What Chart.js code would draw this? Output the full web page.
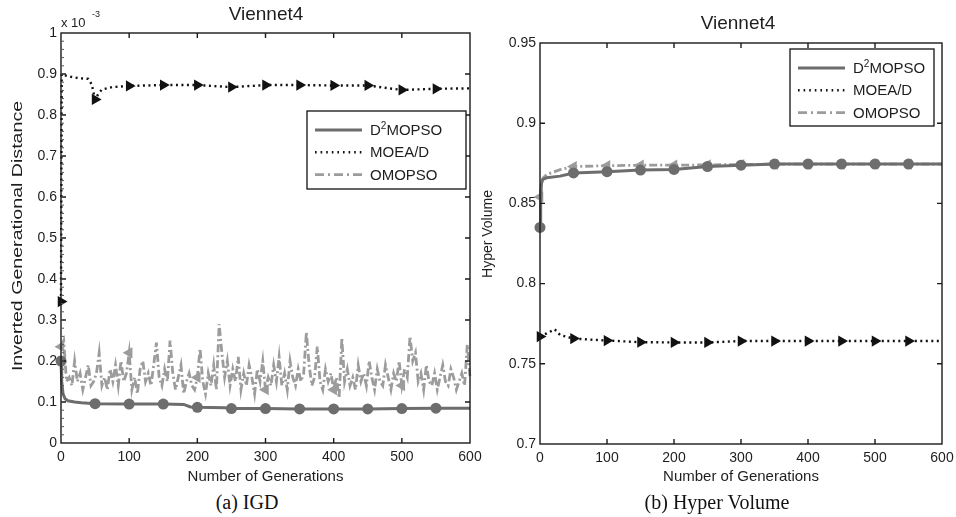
<!DOCTYPE html>
<html><head><meta charset="utf-8">
<script src="https://cdn.jsdelivr.net/npm/chart.js@4.4.1/dist/chart.umd.min.js"></script>
<style>
html,body{margin:0;padding:0;background:#fff;width:956px;height:517px;overflow:hidden;position:relative;}
#c1{position:absolute;left:0;top:0;}
#c2{position:absolute;left:478px;top:0;}
.cap{position:absolute;top:488px;font-family:"Liberation Serif","DejaVu Serif",serif;font-size:20px;color:#111;text-align:center;width:300px;line-height:28px;}
</style></head>
<body>
<canvas id="c1" width="484" height="481"></canvas>
<canvas id="c2" width="478" height="481"></canvas>
<div class="cap" style="left:97px">(a) IGD</div>
<div class="cap" style="left:567px">(b) Hyper Volume</div>
<script>
// ---------- DATA ----------
const seriesNames = ['D²MOPSO', 'MOEA/D', 'OMOPSO'];
const chartTitle = 'Viennet4';
const xAxisTitle = 'Number of Generations';
const igdAxisTitle = 'Inverted Generational Distance';
const hvAxisTitle = 'Hyper Volume';

// (a) IGD  (values in units of 10^-3)
const igdD2Gens  = [0,1,3,6,10,20,30,50,100,150,180,190,200,240,250,300,350,400,450,500,550,600];
const igdD2Vals  = [0.2,0.15,0.12,0.108,0.103,0.1,0.098,0.096,0.095,0.095,0.094,0.088,0.087,0.086,0.084,0.084,0.083,0.083,0.083,0.084,0.085,0.085];
const igdMoeaGens = [0,1,5,15,25,40,45,50,55,60,75,100,125,150,200,250,300,350,400,450,500,550,600];
const igdMoeaVals = [0.345,0.9,0.897,0.893,0.89,0.888,0.875,0.838,0.852,0.862,0.868,0.871,0.872,0.873,0.873,0.868,0.873,0.873,0.872,0.872,0.861,0.864,0.865];
const igdOmopsoStep = 4; // one value every 4 generations
const igdOmopsoVals = [
 0.235,0.25,0.15,0.16,0.14,0.2,0.15,0.17,0.13,0.16,
 0.19,0.14,0.15,0.17,0.22,0.14,0.16,0.13,0.18,0.15,
 0.19,0.14,0.2,0.15,0.17,0.22,0.13,0.16,0.12,0.18,
 0.2,0.15,0.17,0.14,0.19,0.245,0.16,0.14,0.18,0.15,
 0.25,0.17,0.13,0.16,0.19,0.12,0.15,0.17,0.14,0.13,
 0.16,0.23,0.15,0.12,0.17,0.14,0.19,0.13,0.29,0.22,
 0.16,0.2,0.14,0.18,0.15,0.21,0.13,0.17,0.14,0.19,
 0.16,0.12,0.18,0.15,0.2,0.13,0.16,0.14,0.19,0.15,
 0.21,0.14,0.17,0.13,0.2,0.16,0.14,0.18,0.15,0.17,
 0.27,0.19,0.14,0.16,0.235,0.15,0.13,0.18,0.15,0.17,
 0.13,0.16,0.11,0.255,0.15,0.18,0.14,0.16,0.13,0.19,
 0.15,0.17,0.14,0.2,0.16,0.13,0.18,0.15,0.14,0.19,
 0.16,0.13,0.17,0.15,0.2,0.14,0.18,0.16,0.26,0.2,
 0.22,0.15,0.17,0.13,0.19,0.15,0.14,0.17,0.13,0.16,
 0.19,0.15,0.14,0.18,0.16,0.13,0.15,0.17,0.14,0.24,
 0.16];
const igdYTicks = {min:0, max:1, step:0.1};

// (b) Hyper Volume
const hvD2Gens = [0,1,2,4,10,30,50,100,150,200,250,300,350,400,450,500,550,600];
const hvD2Vals = [0.835,0.85,0.862,0.865,0.866,0.867,0.869,0.8698,0.8708,0.8712,0.873,0.8738,0.8745,0.8745,0.8745,0.8745,0.8745,0.8745];
const hvMoeaGens = [0,10,22,30,50,100,150,200,250,300,350,400,450,500,550,600];
const hvMoeaVals = [0.767,0.769,0.7715,0.768,0.7657,0.7645,0.7635,0.7633,0.7633,0.7642,0.7642,0.7642,0.7642,0.7642,0.7642,0.7642];
const hvOmGens = [0,2,5,10,30,50,100,150,200,250,300,350,400,450,500,550,600];
const hvOmVals = [0.854,0.862,0.866,0.868,0.871,0.873,0.8735,0.8738,0.8738,0.874,0.8742,0.8745,0.8745,0.8745,0.8745,0.8745,0.8745];
const hvYTicks = {min:0.7, max:0.95, step:0.05};
const xTicks = {min:0, max:600, step:100};
const markerEvery = 50;

// ---------- STYLE ----------
const FONT = '"Liberation Sans", Arial, Helvetica, sans-serif';
const TXT = '#1e1e1e';
const styles = [
  {color:'#6d6d6d', width:3, dash:[], legendDash:[], pointStyle:'circle', rot:0, r:5.5},
  {color:'#111111', width:2.4, dash:[2,3.5], legendDash:[1.6,4], pointStyle:'triangle', rot:90, r:6.5},
  {color:'#9c9c9c', width:2.8, dash:[8,3,2,3], legendDash:[9,4,2,4], pointStyle:'triangle', rot:-90, r:6.5}
];

function pts(gens, vals){ return gens.map((g,i)=>({x:g, y:vals[i]})); }
function stepPts(step, vals){ return vals.map((v,i)=>({x:i*step, y:v})); }

function makeDataset(i, data){
  const s = styles[i];
  return {
    label: seriesNames[i], data,
    borderColor: s.color, backgroundColor: s.color, borderWidth: s.width, borderDash: s.dash,
    pointStyle: s.pointStyle, pointRotation: s.rot,
    pointBackgroundColor: s.color, pointBorderColor: s.color, pointBorderWidth: 0,
    pointRadius: c => (c.raw && c.raw.x % markerEvery === 0 && c.raw.x < xTicks.max) ? s.r : 0,
    pointHoverRadius: 0, tension: 0, fill: false, clip: false
  };
}

function drawSupText(ctx, text, x, y, size){
  const parts = text.split('²');
  ctx.font = size + 'px ' + FONT;
  ctx.fillText(parts[0], x, y);
  if (parts.length > 1) {
    let xx = x + ctx.measureText(parts[0]).width;
    ctx.font = Math.round(size*0.68) + 'px ' + FONT;
    ctx.fillText('2', xx, y - size*0.35);
    xx += ctx.measureText('2').width;
    ctx.font = size + 'px ' + FONT;
    ctx.fillText(parts[1], xx, y);
  }
}

function decorPlugin(cfg){
  return {
    id:'decor',
    afterDatasetsDraw(chart){
      const {ctx, chartArea:a, scales:{x, y}} = chart;
      ctx.save();
      ctx.strokeStyle = '#1a1a1a'; ctx.lineWidth = 1.4; ctx.setLineDash([]);
      ctx.strokeRect(a.left, a.top, a.right - a.left, a.bottom - a.top);
      ctx.beginPath();
      x.ticks.forEach(t => {
        const p = x.getPixelForValue(t.value);
        if (p <= a.left + 1 || p >= a.right - 1) return;
        ctx.moveTo(p, a.bottom); ctx.lineTo(p, a.bottom - 5);
        ctx.moveTo(p, a.top); ctx.lineTo(p, a.top + 5);
      });
      y.ticks.forEach(t => {
        const p = y.getPixelForValue(t.value);
        if (p <= a.top + 1 || p >= a.bottom - 1) return;
        ctx.moveTo(a.left, p); ctx.lineTo(a.left + 5, p);
        ctx.moveTo(a.right, p); ctx.lineTo(a.right - 5, p);
      });
      ctx.stroke();
      if (cfg.minorStep) {
        ctx.beginPath(); ctx.lineWidth = 1; ctx.strokeStyle = '#555';
        const n = Math.round((y.max - y.min) / cfg.minorStep);
        for (let k = 1; k < n; k++) {
          const p = y.getPixelForValue(y.min + k * cfg.minorStep);
          ctx.moveTo(a.left, p); ctx.lineTo(a.left + 3, p);
        }
        ctx.stroke();
      }
      ctx.restore();
    },
    afterDraw(chart){
      const {ctx, chartArea:a} = chart;
      ctx.save();
      ctx.fillStyle = TXT;
      // title
      ctx.font = '19px ' + FONT; ctx.textAlign = 'center'; ctx.textBaseline = 'middle';
      ctx.fillText(chartTitle, cfg.titleX, cfg.titleY);
      // x title
      ctx.font = '15px ' + FONT; ctx.textBaseline = 'alphabetic';
      ctx.fillText(xAxisTitle, (a.left + a.right) / 2, cfg.xTitleBase);
      // y title
      ctx.save();
      ctx.translate(cfg.yTitleX, cfg.yTitleY); ctx.rotate(-Math.PI/2); ctx.scale(cfg.yTitleStretch, 1);
      ctx.font = '14px ' + FONT; ctx.textBaseline = 'middle'; ctx.textAlign = 'center';
      ctx.fillText(cfg.yTitle, 0, 0);
      ctx.restore();
      // exponent
      if (cfg.exponent) {
        ctx.textAlign = 'left'; ctx.textBaseline = 'middle';
        ctx.font = '13px ' + FONT; ctx.fillText('x 10', a.left, 23);
        ctx.font = '9px ' + FONT; ctx.fillText('-3', a.left + 31, 15);
      }
      // legend
      const b = cfg.legend;
      ctx.fillStyle = '#fff'; ctx.fillRect(b.x, b.y, b.w, b.h);
      ctx.strokeStyle = '#111'; ctx.lineWidth = 1.3; ctx.strokeRect(b.x, b.y, b.w, b.h);
      seriesNames.forEach((name, i) => {
        const s = styles[i];
        const cy = b.y + 19 + i * 22.3;
        ctx.beginPath(); ctx.setLineDash(s.legendDash); ctx.lineWidth = s.width; ctx.strokeStyle = s.color;
        ctx.moveTo(b.x + 8, cy); ctx.lineTo(b.x + 55, cy); ctx.stroke();
        ctx.setLineDash([]);
        ctx.fillStyle = TXT; ctx.textAlign = 'left'; ctx.textBaseline = 'middle';
        drawSupText(ctx, name, b.x + 63, cy + 1, 15);
      });
      ctx.restore();
    }
  };
}

function tickFmt(v){ return String(+Number(v).toFixed(2)); }

function makeChart(id, datasets, yT, fixed, cfg){
  return new Chart(document.getElementById(id), {
    type:'line',
    data:{datasets},
    options:{
      responsive:false, animation:false, events:[],
      layout:{padding:{left:0, top:fixed.top, right:fixed.right, bottom:0}},
      plugins:{legend:{display:false}, title:{display:false}, tooltip:{enabled:false}},
      scales:{
        x:{type:'linear', min:xTicks.min, max:xTicks.max,
           grid:{display:false, drawTicks:false}, border:{display:false},
           ticks:{stepSize:xTicks.step, padding:6, color:TXT, font:{family:FONT, size:14}, maxRotation:0, callback:tickFmt},
           afterFit(s){ s.height = fixed.xH; s.paddingLeft = 0; s.paddingRight = 0; }},
        y:{type:'linear', min:yT.min, max:yT.max,
           grid:{display:false, drawTicks:false}, border:{display:false},
           ticks:{stepSize:yT.step, padding:4, color:TXT, font:{family:FONT, size:14}, callback:tickFmt},
           afterFit(s){ s.width = fixed.yW; s.paddingTop = 0; s.paddingBottom = 0; }}
      }
    },
    plugins:[decorPlugin(cfg)]
  });
}

makeChart('c1', [
  makeDataset(0, pts(igdD2Gens, igdD2Vals)),
  makeDataset(1, pts(igdMoeaGens, igdMoeaVals)),
  makeDataset(2, stepPts(igdOmopsoStep, igdOmopsoVals))
], igdYTicks, {top:33, right:14, xH:38, yW:61}, {
  titleX:266, titleY:15, xTitleBase:481, yTitle:igdAxisTitle, yTitleX:18, yTitleY:236, yTitleStretch:1.4,
  exponent:true, minorStep:0.02, legend:{x:307, y:111, w:159, h:78}
});

makeChart('c2', [
  makeDataset(0, pts(hvD2Gens, hvD2Vals)),
  makeDataset(1, pts(hvMoeaGens, hvMoeaVals)),
  makeDataset(2, pts(hvOmGens, hvOmVals))
], hvYTicks, {top:43, right:14, xH:37, yW:62}, {
  titleX:260, titleY:24, xTitleBase:481, yTitle:hvAxisTitle, yTitleX:10, yTitleY:234, yTitleStretch:1.0,
  exponent:false, minorStep:0, legend:{x:312, y:49, w:144, h:77}
});
</script>
</body></html>
